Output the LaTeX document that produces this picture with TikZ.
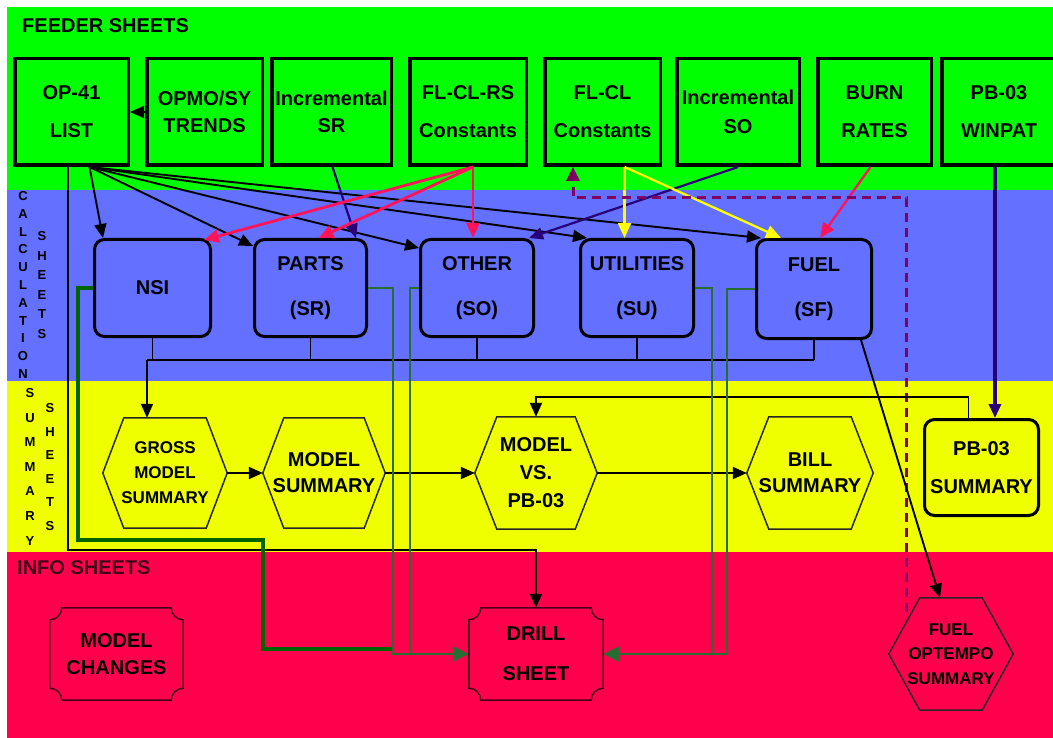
\documentclass[tikz,border=0pt]{standalone}
\usepackage{fontspec}
\setmainfont{Liberation Sans}
\usetikzlibrary{calc,arrows.meta}
\definecolor{bgreen}{RGB}{0,255,0}
\definecolor{bblue}{RGB}{100,112,255}
\definecolor{byellow}{RGB}{240,255,0}
\definecolor{bred}{RGB}{255,0,77}
\definecolor{lred}{RGB}{255,20,90}
\definecolor{lyel}{RGB}{255,255,0}
\definecolor{lnavy}{RGB}{40,0,120}
\definecolor{lpurp}{RGB}{128,0,100}
\definecolor{gthk}{RGB}{0,100,0}
\definecolor{gthn}{RGB}{40,110,50}
\definecolor{dmaroon}{RGB}{70,0,25}

\newcommand\hexpath[2]{\draw[hexline] (#1.west) -- ($(#1.north west)+(#2,0)$) -- ($(#1.north east)+(-#2,0)$) -- (#1.east) -- ($(#1.south east)+(-#2,0)$) -- ($(#1.south west)+(#2,0)$) -- cycle;}

\newcommand\plqpath[1]{\draw[plqline] ($(#1.north west)+(12,0)$) -- ($(#1.north east)+(-12,0)$) .. controls +(0,6.6) and +(-6.6,0) .. ($(#1.north east)+(0,12)$) -- ($(#1.south east)+(0,-12)$) .. controls +(-6.6,0) and +(0,-6.6) .. ($(#1.south east)+(-12,0)$) -- ($(#1.south west)+(12,0)$) .. controls +(0,-6.6) and +(6.6,0) .. ($(#1.south west)+(0,-12)$) -- ($(#1.north west)+(0,12)$) .. controls +(6.6,0) and +(0,6.6) .. ($(#1.north west)+(12,0)$) -- cycle;}

\begin{document}
\begin{tikzpicture}[x=1pt,y=-1pt,
  fnt/.style 2 args={font=\fontsize{#1}{#2}\selectfont\bfseries},
  feeder/.style={draw=black, line width=3.5pt, fill=bgreen, minimum height=106.5pt, inner sep=0pt, align=center},
  calcbox/.style={draw=black, line width=3pt, fill=bblue, rounded corners=10pt, minimum height=97pt, inner sep=0pt, align=center},
  sumbox/.style={draw=black, line width=3pt, fill=byellow, rounded corners=10pt, inner sep=0pt, align=center},
  hexn/.style={inner sep=0pt, align=center},
  plqn/.style={inner sep=0pt, align=center},
  hexline/.style={draw=black!85, line width=1.5pt},
  plqline/.style={draw=dmaroon, line width=1.5pt},
  vlet/.style={font=\fontsize{13}{13}\selectfont\bfseries, inner sep=0pt},
  hdr/.style={font=\fontsize{20}{24}\selectfont\bfseries, inner sep=0pt, anchor=west},
  arr/.style={-{Triangle[length=14pt,width=12pt]}},
  blk/.style={draw=black, line width=1.9pt},
  redl/.style={draw=lred, line width=2.8pt, -{Triangle[length=15pt,width=13pt]}},
  yell/.style={draw=lyel, line width=2.3pt, -{Triangle[length=15pt,width=13pt]}},
  navl/.style={draw=lnavy, line width=2.2pt, -{Triangle[length=14pt,width=12pt]}},
  gthick/.style={draw=gthk, line width=4.5pt},
  gthin/.style={draw=gthn, line width=2.4pt},
  garr/.style={-{Triangle[length=16pt,width=15pt]}},
  purpd/.style={draw=lpurp, line width=3pt, dash pattern=on 9pt off 6pt, -{Triangle[length=14pt,width=13pt]}}
]
\useasboundingbox (0,0) rectangle (1053,738);
\fill[white] (0,0) rectangle (1053,738);
\fill[bgreen] (7,7) rectangle (1053,190);
\fill[bblue] (7,190) rectangle (1053,381);
\fill[byellow] (7,381) rectangle (1053,552);
\fill[bred] (7,552) rectangle (1053,738);

% headers
\node[hdr] (feedhdr) at (22,26) {FEEDER SHEETS};
\node[hdr, text=dmaroon] (infohdr) at (17,568) {INFO SHEETS};

% vertical letters
\foreach \l [count=\i from 0] in {C,A,L,C,U,L,A,T,I,O,N}
  \node[vlet] (cl\i) at (23,{196+17.8*\i}) {\l};
\foreach \l [count=\i from 0] in {S,H,E,E,T,S}
  \node[vlet] (cs\i) at (42,{236+19.6*\i}) {\l};
\foreach \l [count=\i from 0] in {S,U,M,M,A,R,Y}
  \node[vlet] (sl\i) at (30,{393+24.6*\i}) {\l};
\foreach \l [count=\i from 0] in {S,H,E,E,T,S}
  \node[vlet] (ss\i) at (50,{408+23.6*\i}) {\l};

% feeder sheets
\node[feeder, fnt={20}{38}, minimum width=113.5pt] (op41) at (71.5,112) {OP-41\\LIST};
\node[feeder, fnt={20}{27}, minimum width=115.5pt] (opmo) at (204.5,112) {OPMO/SY\\TRENDS};
\node[feeder, fnt={20}{27}, minimum width=119.5pt] (incsr) at (331.5,112) {Incremental\\SR};
\node[feeder, fnt={20}{38}, minimum width=116.5pt] (flclrs) at (468,112) {FL-CL-RS\\Constants};
\node[feeder, fnt={20}{38}, minimum width=115.5pt] (flcl) at (602.5,112) {FL-CL\\Constants};
\node[feeder, fnt={20}{29}, minimum width=122.5pt] (incso) at (738,112) {Incremental\\SO};
\node[feeder, fnt={20}{38}, minimum width=113.5pt] (burn) at (874.5,112) {BURN\\RATES};
\node[feeder, fnt={20}{38}, minimum width=114.5pt] (pb03w) at (999,112) {PB-03\\WINPAT};

% calculation sheets
\node[calcbox, fnt={20}{45}, minimum width=116pt] (nsi) at (152.5,288) {NSI};
\node[calcbox, fnt={20}{45}, minimum width=112pt] (parts) at (310.5,288) {PARTS\\(SR)};
\node[calcbox, fnt={20}{45}, minimum width=113pt] (other) at (477,288) {OTHER\\(SO)};
\node[calcbox, fnt={20}{45}, minimum width=113pt] (util) at (637,288) {UTILITIES\\(SU)};
\node[calcbox, fnt={20}{45}, minimum width=115pt, minimum height=99pt] (fuel) at (814,289) {FUEL\\(SF)};

% summary sheets
\node[hexn, fnt={17}{25}, minimum width=124pt, minimum height=110pt] (gross) at (165,473) {GROSS\\MODEL\\SUMMARY};
\node[hexn, fnt={20}{26}, minimum width=122pt, minimum height=110pt] (msum) at (324,473) {MODEL\\SUMMARY};
\node[hexn, fnt={20}{28}, minimum width=122pt, minimum height=112pt] (mvs) at (536,473) {MODEL\\VS.\\PB-03};
\node[hexn, fnt={20}{26}, minimum width=126pt, minimum height=112pt] (bill) at (810,473) {BILL\\SUMMARY};
\node[sumbox, fnt={20}{38}, minimum width=114pt, minimum height=96pt] (pb03s) at (981.5,467.5) {PB-03\\SUMMARY};
\hexpath{gross}{21}
\hexpath{msum}{21}
\hexpath{mvs}{22}
\hexpath{bill}{22}

% info sheets
\node[plqn, fnt={20}{27}, minimum width=133pt, minimum height=92pt] (mc) at (116.5,654) {MODEL\\CHANGES};
\node[plqn, fnt={20}{40}, minimum width=134pt, minimum height=92pt] (drill) at (536,654) {DRILL\\SHEET};
\node[hexn, fnt={17}{24.5}, minimum width=124pt, minimum height=112pt] (fo) at (951,654) {FUEL\\OPTEMPO\\SUMMARY};
\plqpath{mc}
\plqpath{drill}
\hexpath{fo}{31}

% OPMO -> OP-41
\draw[blk,arr] (opmo.west) -- (op41.east);

% OP-41 fan
\coordinate (opf) at ($(op41.south)+(18,0)$);
\draw[blk,arr] (opf) -- ($(nsi.north west)+(10,0)$);
\draw[blk,arr] (opf) -- ($(parts.north west)+(0,8)$);
\draw[blk,arr] (opf) -- ($(other.north west)+(0,10)$);
\draw[blk,arr] (opf) -- ($(util.north west)+(8,0)$);
\draw[blk,arr] (opf) -- ($(fuel.north west)+(6,0)$);

% OP-41 -> DRILL
\coordinate (opv) at ($(op41.south)+(-3.5,0)$);
\coordinate (opc) at (68,550);
\draw[blk,arr] (opv) -- (opc) -- (opc -| drill.north) -- (drill.north);

% Incremental SR -> PARTS
\draw[navl] ($(incsr.south)+(1,0)$) -- ($(parts.north east)+(-12,0)$);
% Incremental SO -> OTHER
\draw[navl] (incso.south) -- ($(other.north east)+(-6,0)$);

% FL-CL-RS red arrows
\coordinate (rsf) at ($(flclrs.south)+(5,0)$);
\draw[redl] (rsf) -- ($(nsi.north east)+(-8,2)$);
\draw[redl] (rsf) -- ($(parts.north)+(8,0)$);
\draw[redl] (rsf) -- (rsf |- other.north);

% FL-CL yellow arrows
\coordinate (ylf) at ($(flcl.south)+(22,0)$);
\draw[yell] (ylf) -- (ylf |- util.north);
\draw[yell] (ylf) -- ($(fuel.north west)+(26,0)$);

% BURN RATES -> FUEL
\draw[redl, line width=2.3pt] ($(burn.south)+(-4,0)$) -- ($(fuel.north)+(6,0)$);

% PB-03 WINPAT -> PB-03 SUMMARY
\coordinate (w1) at ($(pb03w.south)+(-4,0)$);
\draw[navl, line width=3.2pt] (w1) -- (w1 |- pb03s.north);

% dashed purple FUEL OPTEMPO -> FL-CL
\coordinate (d0) at ($(fo.north west)+(18,14)$);
\coordinate (dc) at (573,198);
\draw[purpd] (d0) |- (dc) -- (flcl.south -| dc);

% FUEL -> FUEL OPTEMPO
\draw[blk,arr] ($(fuel.south east)+(-12,0)$) -- ($(fo.north)+(-11,0)$);

% bus to GROSS
\coordinate (bus) at (147,360);
\foreach \n in {nsi,parts,other,util,fuel}
  \draw[blk, line width=1.6pt] (\n.south) -- (\n.south |- bus);
\draw[blk, line width=1.6pt] (bus) -- (fuel.south |- bus);
\draw[blk,arr] (bus) -- (bus |- gross.north);

% summary flow
\draw[blk,arr] (gross.east) -- (msum.west);
\draw[blk,arr] (msum.east) -- (mvs.west);
\draw[blk,arr] (mvs.east) -- (bill.west);
\coordinate (pb1) at ($(pb03s.north)+(-13,0)$);
\coordinate (pbk) at ($(pb1)+(0,-21)$);
\draw[blk,arr] (pb1) -- (pbk) -- (pbk -| mvs.north) -- (mvs.north);

% green connectors to DRILL
\draw[gthick] (nsi.west) -- ++(-15,0) |- (263,540) |- (393,649);
\draw[gthin,garr] (parts.east) -| (393,654) -- (drill.west);
\draw[gthin] (other.west) -| (410,654);
\draw[gthin,garr] (util.east) -| (712,654) -- (drill.east);
\draw[gthin] (fuel.west) -| (727,654) -- (712,654);
\end{tikzpicture}
\end{document}
